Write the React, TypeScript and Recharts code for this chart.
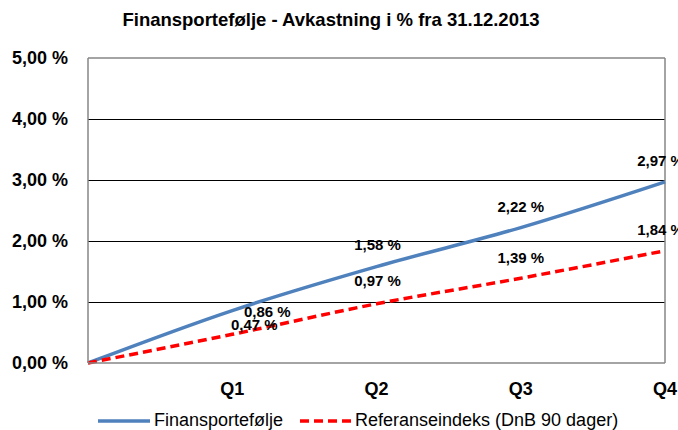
import React from 'react';
import { LineChart, Line, XAxis, YAxis, CartesianGrid, ReferenceLine, LabelList, Legend } from 'recharts';

const categories = ['', 'Q1', 'Q2', 'Q3', 'Q4'];
const finansportefolje = [0, 0.86, 1.58, 2.22, 2.97];
const referanseindeks = [0, 0.47, 0.97, 1.39, 1.84];
const yTicks = [0, 1, 2, 3, 4, 5];

const data = categories.map((c, i) => ({ cat: c, fin: finansportefolje[i], ref: referanseindeks[i] }));

const FONT = '"Liberation Sans", Arial, sans-serif';
const BLUE = '#4F81BD';
const RED = '#FF0000';

const fmt = (v: number) => v.toFixed(2).replace('.', ',') + ' %';

const finOffsets: Record<number, [number, number]> = { 1: [35, 1.5], 2: [1, -22], 3: [0, -21], 4: [-4.5, -21] };
const refOffsets: Record<number, [number, number]> = { 1: [22, -10], 2: [1, -23], 3: [0, -21], 4: [-4.5, -21] };

const makeLabel = (offsets: Record<number, [number, number]>) => (props: any) => {
  const { x, y, value, index } = props;
  if (!offsets[index]) return null;
  const [dx, dy] = offsets[index];
  return (
    <text x={x + dx} y={y + dy} dy="0.355em" textAnchor="middle" fontFamily={FONT} fontSize={15} fontWeight="bold" fill="#000">
      {fmt(value)}
    </text>
  );
};

const legendItems = [
  { name: 'Finansportefølje', color: BLUE, dash: undefined as string | undefined, x0: 98, textX: 154 },
  { name: 'Referanseindeks (DnB 90 dager)', color: RED, dash: '9 5', x0: 300, textX: 355 },
];

const LegendContent = () => (
  <svg width={678} height={26} style={{ display: 'block' }}>
    {legendItems.map((it) => (
      <g key={it.name}>
        <line x1={it.x0} x2={it.x0 + 52} y1={15} y2={15} stroke={it.color} strokeWidth={3.5} strokeDasharray={it.dash} />
        <text x={it.textX} y={14} dy="0.355em" fontFamily={FONT} fontSize={18} fill="#000">{it.name}</text>
      </g>
    ))}
  </svg>
);

export default function App() {
  return (
    <div style={{ position: 'absolute', left: 0, top: 0, width: 678, height: 430, background: '#fff' }}>
      <div style={{ position: 'absolute', left: 0, top: 8, width: 662, textAlign: 'center', fontFamily: FONT, fontWeight: 'bold', fontSize: 18.5, lineHeight: '24px', color: '#000' }}>
        Finansportefølje - Avkastning i % fra 31.12.2013
      </div>
      <LineChart width={678} height={430} data={data} margin={{ top: 58, right: 13, left: 0, bottom: 37 }}>
        <CartesianGrid vertical={false} stroke="#000" strokeWidth={1} shapeRendering="crispEdges" horizontalValues={[1, 2, 3, 4]} />
        <XAxis
          dataKey="cat"
          height={30}
          padding={{ left: 0, right: 0 }}
          tickSize={0}
          tickMargin={19}
          axisLine={{ stroke: '#868686', strokeWidth: 1.5 }}
          tick={{ fontFamily: FONT, fontSize: 18, fontWeight: 'bold', fill: '#000' }}
          interval={0}
        />
        <YAxis
          width={88}
          domain={[0, 5]}
          ticks={yTicks}
          tickFormatter={fmt}
          tickSize={0}
          tickMargin={20}
          axisLine={{ stroke: '#868686', strokeWidth: 1.5 }}
          tick={{ fontFamily: FONT, fontSize: 18, fontWeight: 'bold', fill: '#000' }}
          interval={0}
        />
        <ReferenceLine y={5} stroke="#868686" strokeWidth={1.5} />
        <ReferenceLine x="Q4" stroke="#868686" strokeWidth={1.5} />
        <Legend layout="horizontal" verticalAlign="middle" align="center" wrapperStyle={{ top: 406, left: 0, width: 678 }} content={<LegendContent />} />
        <Line type="monotone" dataKey="fin" name="Finansportefølje" stroke={BLUE} strokeWidth={3.5} dot={false} isAnimationActive={false}>
          <LabelList dataKey="fin" content={makeLabel(finOffsets)} />
        </Line>
        <Line type="monotone" dataKey="ref" name="Referanseindeks (DnB 90 dager)" stroke={RED} strokeWidth={3.5} strokeDasharray="9 5" dot={false} isAnimationActive={false}>
          <LabelList dataKey="ref" content={makeLabel(refOffsets)} />
        </Line>
      </LineChart>
    </div>
  );
}
